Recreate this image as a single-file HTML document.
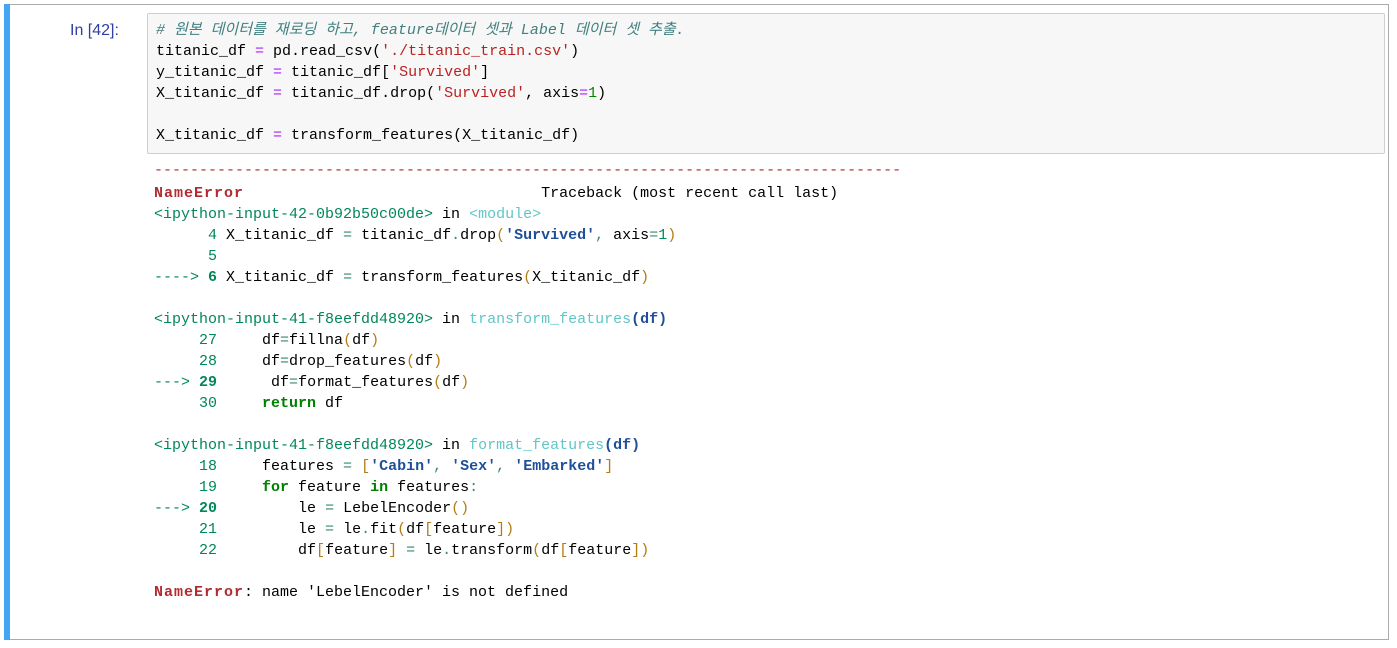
<!DOCTYPE html>
<html><head><meta charset="utf-8"><style>
body{margin:0;width:1397px;height:648px;background:#fff;position:relative;overflow:hidden;font-family:"Liberation Mono","Noto Sans CJK KR",monospace;font-size:15px}
.cell{position:absolute;left:4px;top:4px;width:1384px;height:634px;border:1px solid #ababab;border-left:none;background:#fff}
.bar{position:absolute;left:4px;top:4px;width:6px;height:636px;background:#42a5f5}
.inbox{position:absolute;left:147px;top:13px;width:1236px;height:139px;background:#f7f7f7;border:1px solid #cfcfcf;border-radius:2px}
.l{position:absolute;white-space:pre;line-height:21px;height:21px}
.p{color:#303f9f;font-family:"Liberation Sans",sans-serif;font-size:16px}
.c{color:#408080;font-style:italic}.s{color:#ba2121}.o{color:#aa22ff}.n{color:#080}
.r{color:#b22b31;font-weight:bold;letter-spacing:1px}.g{color:#00875a}.gb{color:#00875a;font-weight:bold}
.cy{color:#60c6c8}.bb{color:#1f4f9a;font-weight:bold}.y{color:#b27d12}.k{color:#008000;font-weight:bold}
.out .o{color:#3a8a6a}
</style></head><body>
<div class="cell"></div><div class="bar"></div>
<div class="inbox"></div>
<div class="l p" style="left:70px;top:20px">In [42]:</div>
<div class="l" style="left:156px;top:20px"><span class="c"># 원본 데이터를 재로딩 하고, feature데이터 셋과 Label 데이터 셋 추출.</span></div>
<div class="l" style="left:156px;top:41px">titanic_df <span class="o">=</span> pd.read_csv(<span class="s">'./titanic_train.csv'</span>)</div>
<div class="l" style="left:156px;top:62px">y_titanic_df <span class="o">=</span> titanic_df[<span class="s">'Survived'</span>]</div>
<div class="l" style="left:156px;top:83px">X_titanic_df <span class="o">=</span> titanic_df.drop(<span class="s">'Survived'</span>, axis<span class="o">=</span><span class="n">1</span>)</div>
<div class="l" style="left:156px;top:125px">X_titanic_df <span class="o">=</span> transform_features(X_titanic_df)</div>
<div class="out">
<div class="l" style="left:154px;top:160px;color:#b22b31">-----------------------------------------------------------------------------------</div>
<div class="l" style="left:154px;top:183px"><span class="r">NameError</span>                                 Traceback (most recent call last)</div>
<div class="l" style="left:154px;top:204px"><span class="g">&lt;ipython-input-42-0b92b50c00de&gt;</span> in <span class="cy">&lt;module&gt;</span></div>
<div class="l" style="left:154px;top:225px"><span class="g">      4</span> X_titanic_df <span class="o">=</span> titanic_df<span class="o">.</span>drop<span class="y">(</span><span class="bb">'Survived'</span><span class="o">,</span> axis<span class="o">=</span><span class="g">1</span><span class="y">)</span></div>
<div class="l" style="left:154px;top:246px"><span class="g">      5</span></div>
<div class="l" style="left:154px;top:267px"><span class="g">----&gt; </span><span class="gb">6</span> X_titanic_df <span class="o">=</span> transform_features<span class="y">(</span>X_titanic_df<span class="y">)</span></div>
<div class="l" style="left:154px;top:309px"><span class="g">&lt;ipython-input-41-f8eefdd48920&gt;</span> in <span class="cy">transform_features</span><span class="bb">(df)</span></div>
<div class="l" style="left:154px;top:330px"><span class="g">     27</span>     df<span class="o">=</span>fillna<span class="y">(</span>df<span class="y">)</span></div>
<div class="l" style="left:154px;top:351px"><span class="g">     28</span>     df<span class="o">=</span>drop_features<span class="y">(</span>df<span class="y">)</span></div>
<div class="l" style="left:154px;top:372px"><span class="g">---&gt; </span><span class="gb">29</span>      df<span class="o">=</span>format_features<span class="y">(</span>df<span class="y">)</span></div>
<div class="l" style="left:154px;top:393px"><span class="g">     30</span>     <span class="k">return</span> df</div>
<div class="l" style="left:154px;top:435px"><span class="g">&lt;ipython-input-41-f8eefdd48920&gt;</span> in <span class="cy">format_features</span><span class="bb">(df)</span></div>
<div class="l" style="left:154px;top:456px"><span class="g">     18</span>     features <span class="o">=</span> <span class="y">[</span><span class="bb">'Cabin'</span><span class="o">,</span> <span class="bb">'Sex'</span><span class="o">,</span> <span class="bb">'Embarked'</span><span class="y">]</span></div>
<div class="l" style="left:154px;top:477px"><span class="g">     19</span>     <span class="k">for</span> feature <span class="k">in</span> features<span class="o">:</span></div>
<div class="l" style="left:154px;top:498px"><span class="g">---&gt; </span><span class="gb">20</span>         le <span class="o">=</span> LebelEncoder<span class="y">()</span></div>
<div class="l" style="left:154px;top:519px"><span class="g">     21</span>         le <span class="o">=</span> le<span class="o">.</span>fit<span class="y">(</span>df<span class="y">[</span>feature<span class="y">])</span></div>
<div class="l" style="left:154px;top:540px"><span class="g">     22</span>         df<span class="y">[</span>feature<span class="y">]</span> <span class="o">=</span> le<span class="o">.</span>transform<span class="y">(</span>df<span class="y">[</span>feature<span class="y">])</span></div>
<div class="l" style="left:154px;top:582px"><span class="r">NameError</span>: name 'LebelEncoder' is not defined</div>
</div>
</body></html>
